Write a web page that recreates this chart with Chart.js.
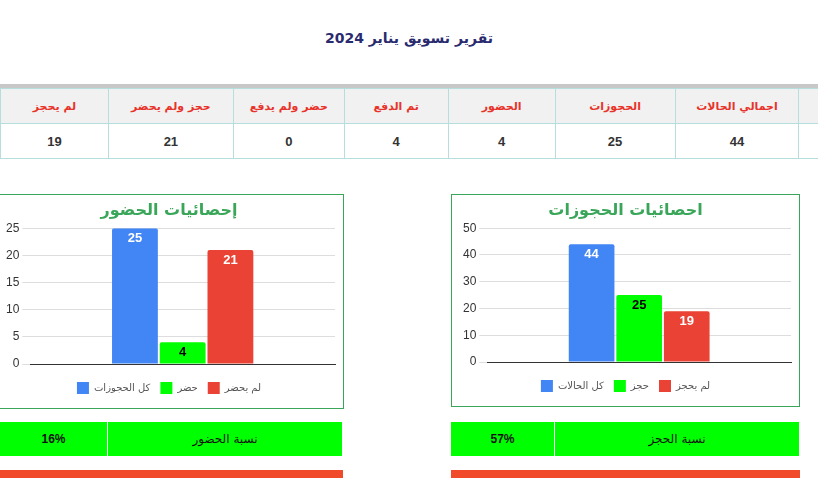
<!DOCTYPE html>
<html><head><meta charset="utf-8">
<script src="https://cdn.jsdelivr.net/npm/chart.js@4"></script>
<style>
body{margin:0;width:818px;height:478px;background:#fff;position:relative;overflow:hidden;font-family:"DejaVu Sans",sans-serif}
.abs{position:absolute;box-sizing:border-box}
#title{left:0;width:818px;top:30px;text-align:center;font-weight:bold;font-size:14px;color:#2a2a6e}
#bar{left:0;width:818px;top:84px;height:4px;background:#c8c8c8}
table{position:absolute;left:0;top:88px;border-collapse:collapse;direction:ltr}
td{border:1px solid #b6dedc;text-align:center;box-sizing:border-box;padding:0}
.h td{height:35px;background:#f1f1f1;color:#e8332a;font-size:11px;font-weight:bold}
.v td{height:35px;color:#333;font-size:13px;font-weight:bold;font-family:"Liberation Sans"}
.box{border:1px solid #3aa65a;background:#fff}
.row{height:34px;background:#00ff00;font-size:12px;color:#111;display:flex;align-items:center;justify-content:center;border-right:1px solid #fff}
.red{background:#f04a2a;height:10px;top:470px}
</style></head><body>
<div id="title" class="abs">تقرير تسويق يناير 2024</div>
<div id="bar" class="abs"></div>
<table>
<tr class="h"><td style="width:108px">لم يحجز</td><td style="width:125px">حجز ولم يحضر</td><td style="width:111px">حضر ولم يدفع</td><td style="width:104px">تم الدفع</td><td style="width:107px">الحضور</td><td style="width:120px">الحجوزات</td><td style="width:124px">اجمالي الحالات</td><td style="width:19px;border-right:none"></td></tr>
<tr class="v"><td>19</td><td>21</td><td>0</td><td>4</td><td>4</td><td>25</td><td>44</td><td style="border-right:none"></td></tr>
</table>
<div class="abs box" style="left:-2px;top:194px;width:346px;height:215px"><canvas id="c1"></canvas></div>
<div class="abs box" style="left:451px;top:194px;width:349px;height:213px"><canvas id="c2"></canvas></div>
<div class="abs row" style="left:0;top:422px;width:108px;font-family:'Liberation Sans';font-weight:bold">16%</div>
<div class="abs row" style="left:108px;top:422px;width:235px">نسبة الحضور</div>
<div class="abs row" style="left:451px;top:422px;width:104px;font-family:'Liberation Sans';font-weight:bold">57%</div>
<div class="abs row" style="left:555px;top:422px;width:245px">نسبة الحجز</div>
<div class="abs red" style="left:0;width:343px"></div>
<div class="abs red" style="left:451px;width:349px"></div>
<script>
const attendLabels = ['كل الحجوزات', 'حضر', 'لم يحضر'];
const attendValues = [25, 4, 21];
const bookLabels = ['كل الحالات', 'حجز', 'لم يحجز'];
const bookValues = [44, 25, 19];
const colors = ['#4285f4', '#00ff00', '#ea4335'];
const labelColors = ['#fff', '#000', '#fff'];

const valueLabels = {
  id: 'valueLabels',
  afterDatasetsDraw(chart) {
    const ctx = chart.ctx;
    ctx.save();
    ctx.font = 'bold 13px "Liberation Sans"';
    ctx.textAlign = 'center';
    ctx.textBaseline = 'top';
    chart.data.datasets.forEach((ds, i) => {
      const bar = chart.getDatasetMeta(i).data[0];
      ctx.fillStyle = labelColors[i];
      ctx.fillText(ds.data[0], bar.x, bar.y + 4);
    });
    ctx.restore();
  }
};

function makeChart(id, title, names, values, max, step, pad) {
  new Chart(document.getElementById(id), {
    type: 'bar',
    data: {
      labels: [''],
      datasets: names.map((n, i) => ({
        label: n, data: [values[i]], backgroundColor: colors[i],
        borderRadius: 2, barPercentage: 0.96, categoryPercentage: 0.47
      }))
    },
    options: {
      responsive: true, maintainAspectRatio: false, animation: false,
      layout: {padding: pad},
      plugins: {
        title: {display: true, text: title, color: '#3aa65a', font: {size: 16, weight: 'bold', family: 'DejaVu Sans'}, padding: {top: 6, bottom: 8}},
        legend: {position: 'bottom', labels: {boxWidth: 12, boxHeight: 12, color: '#555', font: {size: 10, family: 'DejaVu Sans'}}},
        tooltip: {enabled: false}
      },
      scales: {
        x: {grid: {display: false}, border: {color: '#333'}, ticks: {display: false}},
        y: {min: 0, max: max, ticks: {stepSize: step, color: '#333', font: {size: 12, family: 'Liberation Sans'}}, grid: {color: '#ddd'}, border: {display: false}}
      }
    },
    plugins: [valueLabels]
  });
}
makeChart('c1', 'إحصائيات الحضور', attendLabels, attendValues, 25, 5, {left: 4, right: 8, bottom: 4});
makeChart('c2', 'احصائيات الحجوزات', bookLabels, bookValues, 50, 10, {left: 8, right: 8, bottom: 4});
</script>
</body></html>
